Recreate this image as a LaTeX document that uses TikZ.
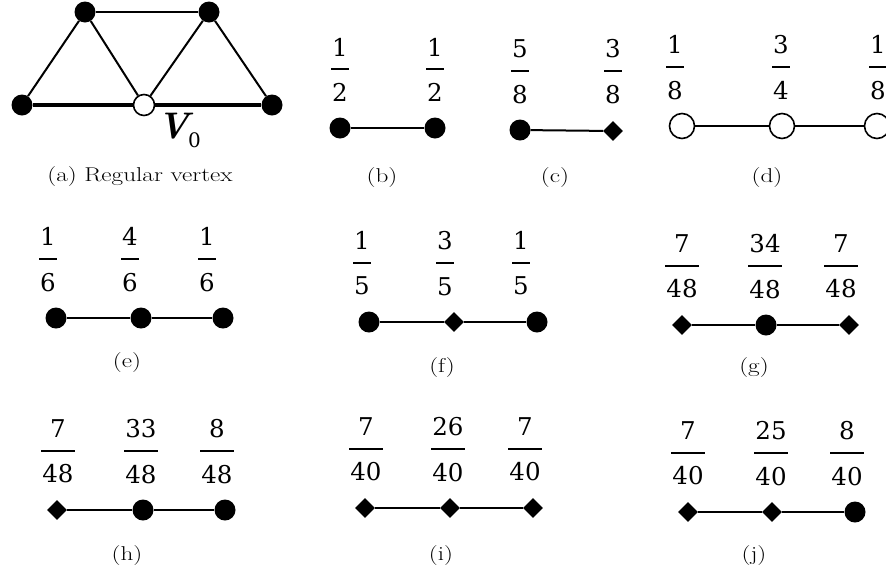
\documentclass[tikz,border=0pt]{standalone}
\usepackage{fontspec}
\usepackage{graphicx}
\usetikzlibrary{shapes.geometric}
\newfontfamily\fracfont{DejaVu Serif}
\newcommand\fr[2]{%
  \setbox0\hbox{#1}\setbox2\hbox{#2}%
  \dimen0=\wd0 \ifdim\wd2>\dimen0 \dimen0=\wd2\fi
  \advance\dimen0 by 2pt
  \vbox{\offinterlineskip\hbox to\dimen0{\hss\box0\hss}\kern12pt\hrule height2pt\kern13pt\hbox to\dimen0{\hss\box2\hss}}}
\newcommand\capt[1]{\scalebox{1.26}[1]{#1}}
\tikzset{
  dot/.style={circle, fill=black, inner sep=0pt, minimum size=21pt},
  odot/.style={circle, draw=black, line width=1.6pt, fill=white, inner sep=0pt, minimum size=25pt},
  vodot/.style={circle, draw=black, line width=1.6pt, fill=white, inner sep=0pt, minimum size=21pt},
  dia/.style={diamond, fill=black, inner sep=0pt, minimum width=20pt, minimum height=20pt},
  edge/.style={line width=2pt},
  thickedge/.style={line width=4pt},
  frac/.style={inner sep=0pt, font=\fracfont\fontsize{24.5}{26}\selectfont},
  captn/.style={inner sep=0pt, font=\fontsize{20}{23}\selectfont},
}
\begin{document}
\begin{tikzpicture}[x=1pt, y=-1pt]
\useasboundingbox (0,0) rectangle (886,574);
% (a)
\node[dot] (a1) at (85,12) {};
\node[dot] (a2) at (209,12) {};
\node[dot] (a3) at (22,105) {};
\node[vodot] (a0) at (144,105) {};
\node[dot] (a4) at (272,105) {};
\draw[edge] (a1) -- (a2);
\draw[edge] (a1) -- (a3);
\draw[edge] (a1) -- (a0);
\draw[edge] (a2) -- (a0);
\draw[edge] (a2) -- (a4);
\draw[thickedge] (a3) -- (a0);
\draw[thickedge] (a0) -- (a4);
\node[inner sep=0pt] (v0) at (179,130) {\fontsize{37}{37}\selectfont\bfseries\itshape V\kern-1pt\raisebox{-9pt}{\fracfont\upshape\mdseries\fontsize{20}{20}\selectfont 0}};
\node[captn] (ca) at (140,177) {\capt{(a) Regular vertex}};
% (b)
\node[frac] (bf1) at (340,69.5) {\fr{1}{2}};
\node[frac] (bf2) at (435,69.5) {\fr{1}{2}};
\node[dot] (b1) at (340,128) {};
\node[dot] (b2) at (435,128) {};
\draw[edge] (b1) -- (b2);
\node[captn] (cb) at (382,178) {\capt{(b)}};
% (c)
\node[frac] (cf1) at (520,71.5) {\fr{5}{8}};
\node[frac] (cf2) at (613,71.5) {\fr{3}{8}};
\node[dot] (c1) at (520,130) {};
\node[dia] (c2) at (613,131) {};
\draw[edge] (c1) -- (c2);
\node[captn] (cc) at (555,178) {\capt{(c)}};
% (d)
\node[frac] (df1) at (675,67.5) {\fr{1}{8}};
\node[frac] (df2) at (781,67.5) {\fr{3}{4}};
\node[frac] (df3) at (878,67.5) {\fr{1}{8}};
\node[odot] (d1) at (682,126) {};
\node[odot] (d2) at (782,126) {};
\node[odot] (d3) at (877,126) {};
\draw[edge] (d1) -- (d2);
\draw[edge] (d2) -- (d3);
\node[captn] (cd) at (767,178) {\capt{(d)}};
% (e)
\node[frac] (ef1) at (48,259.5) {\fr{1}{6}};
\node[frac] (ef2) at (130,259.5) {\fr{4}{6}};
\node[frac] (ef3) at (207,259.5) {\fr{1}{6}};
\node[dot] (e1) at (56,318) {};
\node[dot] (e2) at (141,318) {};
\node[dot] (e3) at (223,318) {};
\draw[edge] (e1) -- (e2);
\draw[edge] (e2) -- (e3);
\node[captn] (ce) at (127,363) {\capt{(e)}};
% (f)
\node[frac] (ff1) at (362,263.5) {\fr{1}{5}};
\node[frac] (ff2) at (445,263.5) {\fr{3}{5}};
\node[frac] (ff3) at (521,263.5) {\fr{1}{5}};
\node[dot] (f1) at (369,322) {};
\node[dia] (f2) at (454,322) {};
\node[dot] (f3) at (537,322) {};
\draw[edge] (f1) -- (f2);
\draw[edge] (f2) -- (f3);
\node[captn] (cf) at (442,368) {\capt{(f)}};
% (g)
\node[frac] (gf1) at (682,266.5) {\fr{7}{48}};
\node[frac] (gf2) at (765,266.5) {\fr{34}{48}};
\node[frac] (gf3) at (841,266.5) {\fr{7}{48}};
\node[dia] (g1) at (682,325) {};
\node[dot] (g2) at (766,325) {};
\node[dia] (g3) at (849,325) {};
\draw[edge] (g1) -- (g2);
\draw[edge] (g2) -- (g3);
\node[captn] (cg) at (754,368) {\capt{(g)}};
% (h)
\node[frac] (hf1) at (58,451.5) {\fr{7}{48}};
\node[frac] (hf2) at (141,451.5) {\fr{33}{48}};
\node[frac] (hf3) at (217,451.5) {\fr{8}{48}};
\node[dia] (h1) at (57,510) {};
\node[dot] (h2) at (143,510) {};
\node[dot] (h3) at (225,510) {};
\draw[edge] (h1) -- (h2);
\draw[edge] (h2) -- (h3);
\node[captn] (ch) at (127,555) {\capt{(h)}};
% (i)
\node[frac] (if1) at (366,449.5) {\fr{7}{40}};
\node[frac] (if2) at (448,449.5) {\fr{26}{40}};
\node[frac] (if3) at (525,449.5) {\fr{7}{40}};
\node[dia] (i1) at (365,508) {};
\node[dia] (i2) at (450,508) {};
\node[dia] (i3) at (533,508) {};
\draw[edge] (i1) -- (i2);
\draw[edge] (i2) -- (i3);
\node[captn] (ci) at (441,555) {\capt{(i)}};
% (j)
\node[frac] (jf1) at (688,453.5) {\fr{7}{40}};
\node[frac] (jf2) at (771,453.5) {\fr{25}{40}};
\node[frac] (jf3) at (847,453.5) {\fr{8}{40}};
\node[dia] (j1) at (688,512) {};
\node[dia] (j2) at (772,512) {};
\node[dot] (j3) at (855,512) {};
\draw[edge] (j1) -- (j2);
\draw[edge] (j2) -- (j3);
\node[captn] (cj) at (754,555) {\capt{(j)}};
\end{tikzpicture}
\end{document}
